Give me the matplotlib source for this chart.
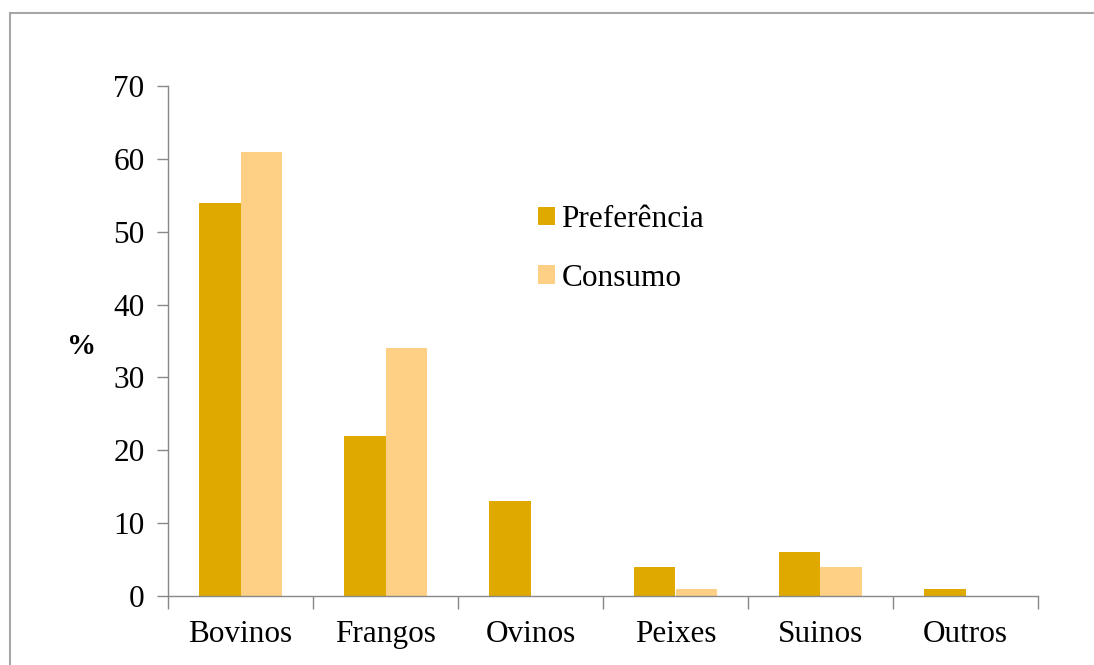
import numpy as np
import matplotlib.pyplot as plt
from matplotlib.lines import Line2D

# dados (%)
categorias = ['Bovinos', 'Frangos', 'Ovinos', 'Peixes', 'Suinos', 'Outros']
preferencia = [54, 22, 13, 4, 6, 1]
consumo = [61, 34, 0, 1, 4, 0]

COR_PREF = '#E0A900'
COR_CONS = '#FED086'
plt.rcParams['font.family'] = ['Liberation Serif', 'DejaVu Serif']

W, H = 1094, 665
fig = plt.figure(figsize=(W / 100, H / 100), dpi=100)
ax = fig.add_axes([168 / W, 1 - 596 / H, (1038 - 168) / W, (596 - 86) / H])

x = np.arange(len(categorias))
larg = 0.283
ax.bar(x - larg / 2, preferencia, larg, color=COR_PREF, label='Preferência')
ax.bar(x + larg / 2, consumo, larg, color=COR_CONS, label='Consumo')

ax.set_xlim(-0.5, len(categorias) - 0.5)
ax.set_ylim(0, 70)
ax.set_yticks(range(0, 71, 10))
ax.set_xticks(x)
ax.set_xticklabels(categorias, fontsize=22.5)
ax.set_xticks(np.arange(-0.5, len(categorias)), minor=True)
ax.tick_params(axis='x', which='major', length=0, pad=17)
ax.tick_params(axis='x', which='minor', length=9, color='#888888', width=1)
ax.tick_params(axis='y', length=8, color='#888888', width=1, labelsize=22.5, pad=9)

for s in ['top', 'right']:
    ax.spines[s].set_visible(False)
for s in ['left', 'bottom']:
    ax.spines[s].set_color('#888888')
    ax.spines[s].set_linewidth(1)

fig.text(82 / W, 1 - 347 / H, '%', fontsize=21, fontweight='bold',
         ha='center', va='center')

ax.legend(loc='upper left', bbox_to_anchor=(538 / W, 1 - 205 / H),
          bbox_transform=fig.transFigure, frameon=False, fontsize=22.5,
          handlelength=0.55, handleheight=0.55, handletextpad=0.2,
          labelspacing=0.95, borderpad=0, borderaxespad=0)

# moldura do grafico
cor_borda = '#A6A6A6'
fig.add_artist(Line2D([10 / W, 10 / W], [0, 1 - 13 / H], color=cor_borda,
                      lw=1.5, transform=fig.transFigure))
fig.add_artist(Line2D([10 / W, 1], [1 - 13 / H, 1 - 13 / H], color=cor_borda,
                      lw=1.5, transform=fig.transFigure))

fig.savefig('out.png', dpi=100)
